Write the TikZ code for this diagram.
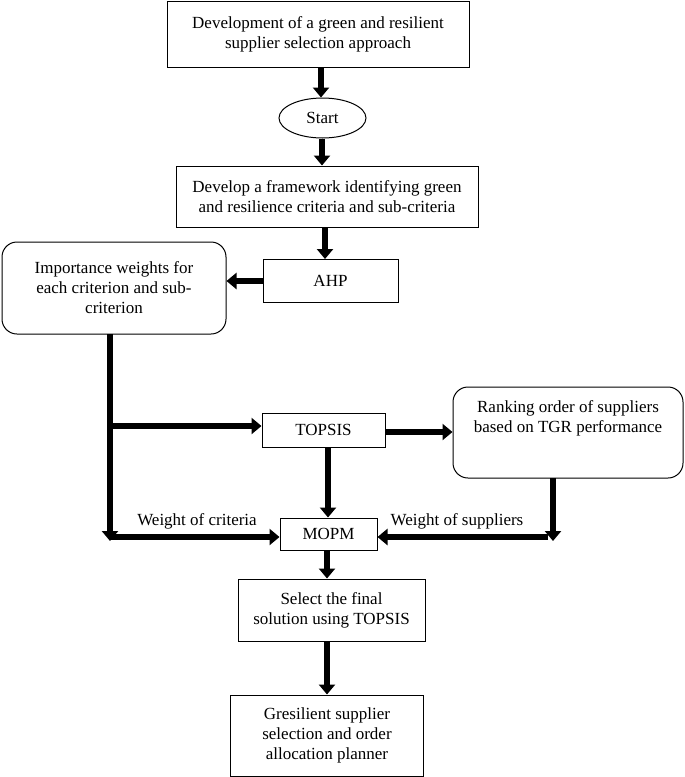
\documentclass[tikz,border=0pt]{standalone}
\usepackage{fontspec}
\setmainfont{Liberation Serif}
\usetikzlibrary{arrows.meta,shapes.geometric,calc}
\begin{document}
\begin{tikzpicture}[x=1pt,y=-1pt,
  font=\fontsize{17}{20}\selectfont,
  box/.style={draw,line width=1pt,inner sep=0pt,align=center},
  rbox/.style={box,rounded corners=15pt},
  arr/.style={line width=6pt,-{Triangle[width=16pt,length=10pt]}},
  bar/.style={line width=6pt},
  lbl/.style={inner sep=0pt}]
\useasboundingbox (0,0) rectangle (685,777);
\node[box,minimum width=302pt,minimum height=66pt] (top) at (318,34)
  {Development of a green and resilient\\supplier selection approach};
\node[box,ellipse,minimum width=87pt,minimum height=40pt] (start) at (322.5,118) {Start};
\node[box,minimum width=302pt,minimum height=61pt] (frame) at (327,196.5)
  {Develop a framework identifying green\\and resilience criteria and sub-criteria};
\node[box,minimum width=135pt,minimum height=43pt] (ahp) at (330.5,281) {AHP};
\node[rbox,minimum width=224pt,minimum height=92pt] (imp) at (114,288)
  {Importance weights for\\each criterion and sub-\\criterion};
\node[box,minimum width=123pt,minimum height=34pt] (topsis) at (323.5,430) {TOPSIS};
\node[rbox,minimum width=230pt,minimum height=91pt] (rank) at (568,432.5) {};
\node[lbl,align=center,anchor=north] (ranktxt) at ($(rank.north)+(0,14)$)
  {Ranking order of suppliers\\based on TGR performance};
\node[box,minimum width=97pt,minimum height=32pt] (mopm) at (328.5,534) {MOPM};
\node[box,minimum width=187pt,minimum height=62pt] (sel) at (331.5,610)
  {Select the final\\solution using TOPSIS};
\node[box,minimum width=193pt,minimum height=81pt] (fin) at (327,735.5)
  {Gresilient supplier\\selection and order\\allocation planner};
\node[lbl] (wc) at (197,521) {Weight of criteria};
\node[lbl] (ws) at (457,521) {Weight of suppliers};
\coordinate (lt) at (110,334);
\coordinate (lb) at (110,541);
\coordinate (lh) at (110,537);
\coordinate (lm) at (110,426);
\coordinate (rt) at (553,478);
\coordinate (rb) at (553,541);
\coordinate (rh) at (548,537);
\draw[arr] (top.south -| 321,0) -- (start.north -| 321,0);
\draw[arr] (start.south -| 322,0) -- (frame.north -| 322,0);
\draw[arr] (frame.south -| 325,0) -- (ahp.north -| 325,0);
\draw[arr] (ahp.west) -- (imp.east |- ahp.west);
\draw[arr] (lt) -- (lb);
\draw[arr] (lm) -- (topsis.west |- lm);
\draw[arr] (lh) -- (mopm.west |- lh);
\draw[arr] (topsis.east |- 0,432) -- (rank.west |- 0,432);
\draw[arr] (topsis.south -| 328,0) -- (mopm.north -| 328,0);
\draw[arr] (rt) -- (rb);
\draw[arr] (rh) -- (mopm.east |- rh);
\draw[arr] (mopm.south -| 327,0) -- (sel.north -| 327,0);
\draw[arr] (sel.south -| 327,0) -- (fin.north -| 327,0);
\end{tikzpicture}
\end{document}
